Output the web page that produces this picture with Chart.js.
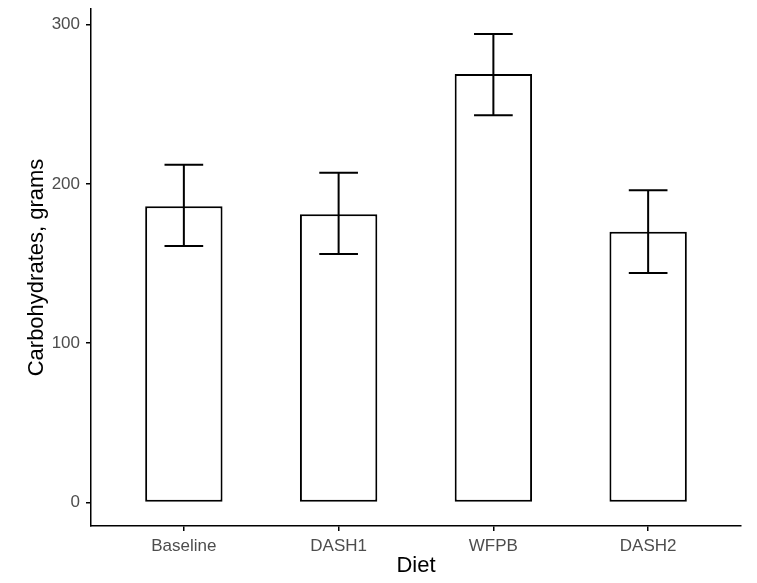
<!DOCTYPE html>
<html>
<head>
<meta charset="utf-8">
<script src="https://cdn.jsdelivr.net/npm/chart.js@4"></script>
<style>
  html, body { margin: 0; padding: 0; background: #fff; }
  #wrap { width: 757px; height: 583px; }
</style>
</head>
<body>
<div id="wrap"><canvas id="chart"></canvas></div>
<script>
const diets = ["Baseline", "DASH1", "WFPB", "DASH2"];
const carbs = [186, 181, 269, 170];
const errLow = [161, 156, 243, 144];
const errHigh = [212, 207, 294, 196];
const yTicks = [0, 100, 200, 300];

const errorBars = {
  id: "errorBars",
  afterDatasetsDraw(chart) {
    const { ctx, scales: { x, y } } = chart;
    ctx.save();
    ctx.strokeStyle = "#000";
    ctx.lineWidth = 2;
    diets.forEach((d, i) => {
      const cx = x.getPixelForValue(i + 1);
      const half = (x.getPixelForValue(1.125) - x.getPixelForValue(1));
      const top = y.getPixelForValue(errHigh[i]);
      const bot = y.getPixelForValue(errLow[i]);
      ctx.beginPath();
      ctx.moveTo(cx, top); ctx.lineTo(cx, bot);
      ctx.moveTo(cx - half, top); ctx.lineTo(cx + half, top);
      ctx.moveTo(cx - half, bot); ctx.lineTo(cx + half, bot);
      ctx.stroke();
    });
    ctx.restore();
  }
};

new Chart(document.getElementById("chart"), {
  type: "bar",
  data: {
    datasets: [{
      data: carbs.map((v, i) => ({ x: i + 1, y: v })),
      backgroundColor: "#fff",
      borderColor: "#000",
      borderWidth: 2,
      borderSkipped: false,
      barPercentage: 0.5,
      categoryPercentage: 1
    }]
  },
  options: {
    responsive: true,
    maintainAspectRatio: false,
    animation: false,
    layout: { padding: { left: 0, right: 16, top: 9, bottom: 0 } },
    plugins: { legend: { display: false }, tooltip: { enabled: false } },
    scales: {
      x: {
        type: "linear",
        offset: false,
        min: 0.4,
        max: 4.6,
        afterBuildTicks: s => { s.ticks = diets.map((d, i) => ({ value: i + 1 })); },
        afterFit: s => { s.height = 57; s.paddingLeft = 0; s.paddingRight = 0; },
        ticks: {
          callback: (v) => diets[v - 1],
          color: "#4d4d4d",
          font: { family: "Liberation Sans", size: 17 },
          padding: 5
        },
        grid: { offset: false, drawOnChartArea: false, color: "#000", tickLength: 5, lineWidth: 1.5 },
        border: { color: "#000", width: 1.5 },
        title: {
          display: true, text: "Diet", color: "#000",
          font: { family: "Liberation Sans", size: 22 },
          padding: { top: 1 }
        }
      },
      y: {
        min: -14.75,
        max: 309.75,
        afterBuildTicks: s => { s.ticks = yTicks.map(v => ({ value: v })); },
        afterFit: s => { s.width = 91; s.paddingTop = 0; s.paddingBottom = 0; },
        ticks: {
          color: "#4d4d4d",
          font: { family: "Liberation Sans", size: 17 },
          padding: 6
        },
        grid: { drawOnChartArea: false, color: "#000", tickLength: 5, lineWidth: 1.5 },
        border: { color: "#000", width: 1.5 },
        title: {
          display: true, text: "Carbohydrates, grams", color: "#000",
          font: { family: "Liberation Sans", size: 22 },
          padding: { top: 24, bottom: 4 }
        }
      }
    }
  },
  plugins: [errorBars]
});
</script>
</body>
</html>
